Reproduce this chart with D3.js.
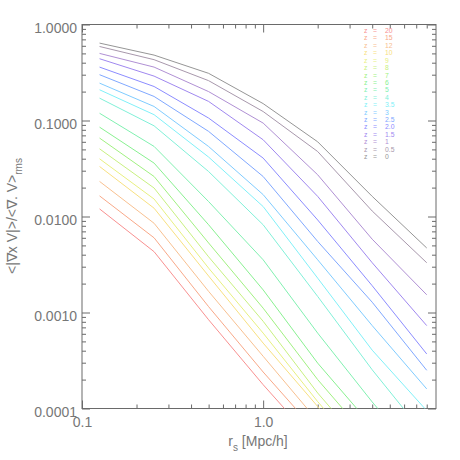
<!DOCTYPE html>
<html>
<head>
<meta charset="utf-8">
<script src="https://cdn.jsdelivr.net/npm/d3@7"></script>
<style>
  body { margin: 0; background: #fff; }
  svg { display: block; }
  text { font-family: "Liberation Sans", Arial, sans-serif; }
</style>
</head>
<body>
<svg id="chart" width="460" height="460"></svg>
<script>
// smoothing scale in Mpc/h
var scales = [0.125, 0.25, 0.5, 1, 2, 4, 8];

// redshifts, top line to bottom line
var redshifts = ["0", "0.5", "1", "1.5", "2.0", "2.5", "3", "3.5", "4", "5", "6", "7", "8", "9", "10", "12", "15", "20"];

// <|curl V|>/<div V>_rms for each redshift (null = off the chart)
var z0   = [0.64, 0.48, 0.31, 0.150, 0.060, 0.0162, 0.0047];
var z05  = [0.59, 0.43, 0.26, 0.124, 0.0475, 0.0114, 0.0033];
var z1   = [0.50, 0.36, 0.20, 0.094, 0.0272, 0.0058, 0.00153];
var z15  = [0.44, 0.29, 0.158, 0.063, 0.0162, 0.0033, 0.00073];
var z20  = [0.36, 0.226, 0.106, 0.0406, 0.0092, 0.0019, 0.00037];
var z25  = [0.30, 0.178, 0.077, 0.0261, 0.0055, 0.00128, 0.00025];
var z3   = [0.245, 0.14, 0.0536, 0.0169, 0.00354, 0.00073, 0.00016];
var z35  = [0.209, 0.115, 0.0416, 0.0127, 0.00228, 0.000405, 0.000095];
var z4   = [0.171, 0.088, 0.0294, 0.0082, 0.00147, 0.000253, 0.00005];
var z5   = [0.119, 0.0537, 0.0143, 0.00354, 0.00061, 0.000117, 0.000025];
var z6   = [0.0853, 0.036, 0.0082, 0.00172, 0.000297, 0.000065, null];
var z7   = [0.0656, 0.0261, 0.0053, 0.00111, 0.0002, 0.000044, null];
var z8   = [0.0507, 0.0198, 0.0038, 0.00081, 0.000145, 0.000032, null];
var z9   = [0.0399, 0.0152, 0.0029, 0.00061, 0.000118, 0.000026, null];
var z10  = [0.0332, 0.0122, 0.0024, 0.00048, 0.000105, 0.000023, null];
var z12  = [0.0232, 0.0085, 0.00166, 0.00035, 0.000074, null, null];
var z15b = [0.0164, 0.0060, 0.00115, 0.00024, 0.000055, null, null];
var z20b = [0.0120, 0.0043, 0.00084, 0.000177, 0.000041, null, null];

var series = [z0, z05, z1, z15, z20, z25, z3, z35, z4, z5, z6, z7, z8, z9, z10, z12, z15b, z20b];

// washed out rainbow, same order as redshifts
var colors = ["#969696", "#a898ac", "#b090d4", "#a088f0", "#8c8cff", "#80a8ff", "#80ccff", "#80f0f8",
              "#80f0d8", "#80f0b0", "#88f090", "#a0f080", "#c8f080", "#e8f080", "#f8e080", "#f8c090",
              "#f8a888", "#f89090"];

var yTicks = [1, 0.1, 0.01, 0.001, 0.0001];
var xTicks = [0.1, 1];

var svg = d3.select("#chart");
var W = 460, H = 460;
// plot box (note: "top" is taken by window.top)
var pL = 82, pR = 436, pT = 24.5, pB = 408.5;

var x = d3.scaleLog().domain([0.1, 9]).range([pL, pR]);
var y = d3.scaleLog().domain([0.0001, 1]).range([pB, pT]);

svg.append("rect").attr("width", W).attr("height", H).attr("fill", "#fff");

svg.append("clipPath").attr("id", "plotclip")
  .append("rect")
  .attr("x", pL).attr("y", pT)
  .attr("width", pR - pL).attr("height", pB - pT);

// minor ticks for every decade
function minors(lo, hi) {
  var out = [];
  for (var e = Math.floor(Math.log10(lo)); e < Math.ceil(Math.log10(hi)); e++) {
    for (var k = 2; k <= 9; k++) {
      var v = k * Math.pow(10, e);
      if (v > lo * 1.0001 && v < hi * 0.9999) out.push(v);
    }
  }
  return out;
}

var axisColor = "#6a6a6a";
var textColor = "#777";

function styleAxis(g) {
  g.select(".domain").remove();
  g.selectAll("line").attr("stroke", axisColor);
  g.selectAll("text").attr("fill", textColor).attr("font-size", 14);
}

// bottom + top x axes
var xMinor = minors(0.1, 9);
svg.append("g").attr("transform", "translate(0," + pB + ")")
  .call(d3.axisBottom(x).tickValues(xTicks).tickSize(-8).tickPadding(9).tickFormat(d3.format(".1f")))
  .call(styleAxis);
svg.append("g").attr("transform", "translate(0," + pB + ")")
  .call(d3.axisBottom(x).tickValues(xMinor).tickSize(-4).tickFormat(""))
  .call(styleAxis);
svg.append("g").attr("transform", "translate(0," + pT + ")")
  .call(d3.axisTop(x).tickValues(xTicks).tickSize(-8).tickFormat(""))
  .call(styleAxis);
svg.append("g").attr("transform", "translate(0," + pT + ")")
  .call(d3.axisTop(x).tickValues(xMinor).tickSize(-4).tickFormat(""))
  .call(styleAxis);

// left + right y axes
var yMinor = minors(0.0001, 1);
svg.append("g").attr("transform", "translate(" + pL + ",0)")
  .call(d3.axisLeft(y).tickValues(yTicks).tickSize(-8).tickPadding(5).tickFormat(d3.format(".4f")))
  .call(styleAxis)
  .selectAll("text").attr("dy", "0.55em");
svg.append("g").attr("transform", "translate(" + pL + ",0)")
  .call(d3.axisLeft(y).tickValues(yMinor).tickSize(-4).tickFormat(""))
  .call(styleAxis);
svg.append("g").attr("transform", "translate(" + pR + ",0)")
  .call(d3.axisRight(y).tickValues(yTicks).tickSize(-8).tickFormat(""))
  .call(styleAxis);
svg.append("g").attr("transform", "translate(" + pR + ",0)")
  .call(d3.axisRight(y).tickValues(yMinor).tickSize(-4).tickFormat(""))
  .call(styleAxis);

// frame
svg.append("rect")
  .attr("x", pL).attr("y", pT)
  .attr("width", pR - pL).attr("height", pB - pT)
  .attr("fill", "none").attr("stroke", axisColor).attr("stroke-width", 1);

// curves
var line = d3.line()
  .defined(function(d) { return d[1] != null; })
  .x(function(d) { return x(d[0]); })
  .y(function(d) { return y(d[1]); });

svg.append("g").attr("clip-path", "url(#plotclip)")
  .selectAll("path")
  .data(series)
  .enter().append("path")
  .attr("fill", "none")
  .attr("stroke", function(d, i) { return colors[i]; })
  .attr("stroke-width", 1)
  .attr("d", function(d) {
    return line(d.map(function(v, j) { return [scales[j], v]; }));
  });

// legend, z = 20 on top, one text per row
var order = redshifts.slice().reverse();
var rows = svg.append("g").attr("font-size", 6.8)
  .selectAll("text")
  .data(order)
  .enter().append("text")
  .attr("y", function(d, i) { return 33 + i * 7.42; })
  .attr("fill", function(d, i) { return colors[redshifts.length - 1 - i]; });
rows.append("tspan").attr("x", 364).text("z");
rows.append("tspan").attr("x", 373).text("=");
rows.append("tspan").attr("x", 385).text(function(d) { return d; });

// axis titles
var xt = svg.append("text")
  .attr("x", 258).attr("y", 446)
  .attr("text-anchor", "middle")
  .attr("font-size", 14).attr("fill", textColor);
xt.append("tspan").text("r");
xt.append("tspan").attr("font-size", 10).attr("dy", 5).text("s");
xt.append("tspan").attr("dy", -5).text("\u00a0[Mpc/h]");

var yt = svg.append("text")
  .attr("transform", "translate(17,216) rotate(-90)")
  .attr("text-anchor", "middle")
  .attr("font-size", 14).attr("fill", textColor);
yt.append("tspan").text("<|\u2207x V|>/<\u2207. V>");
yt.append("tspan").attr("font-size", 10).attr("dy", 5).text("rms");
</script>
</body>
</html>
